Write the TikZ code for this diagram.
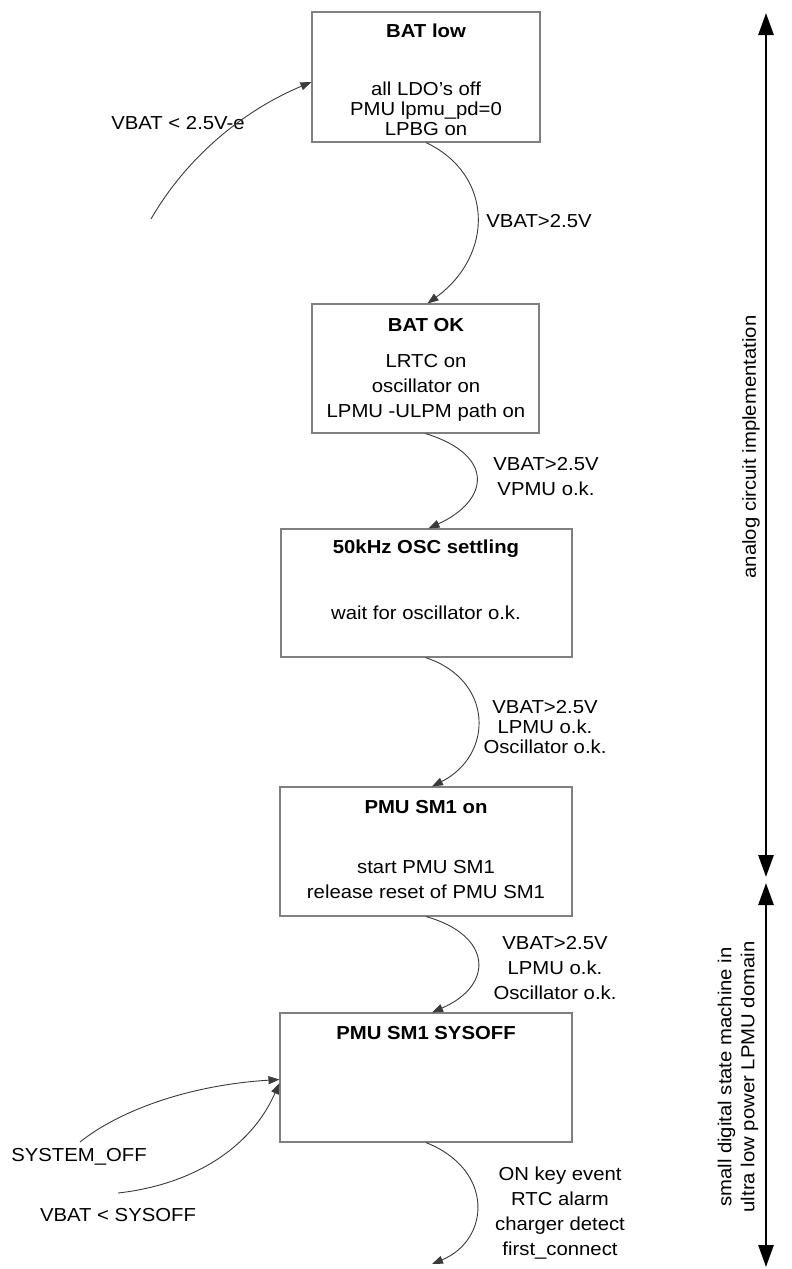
\documentclass[tikz,border=0pt]{standalone}
\usepackage{fontspec}
\setmainfont{Liberation Sans}[FakeStretch=1.08]
\usetikzlibrary{arrows.meta}
\definecolor{boxgray}{HTML}{808080}
\definecolor{linegray}{HTML}{3A3A3A}
\begin{document}
\begin{tikzpicture}[x=1pt,y=-1pt,
  box/.style={draw=boxgray, line width=1.1pt, inner sep=0pt},
  txt/.style={inner sep=0pt, align=center, font=\fontsize{18.8}{25}\selectfont},
  ttl/.style={inner sep=0pt, align=center, font=\fontsize{18.8}{25}\selectfont\bfseries},
  tight/.style={inner sep=0pt, align=center, font=\fontsize{18.8}{20}\selectfont},
  transarrow/.style={draw=linegray, line width=0.9pt, -{Triangle[length=11pt,width=8pt]}},
  rangearrow/.style={draw=black, line width=2.6pt, {Triangle[length=22pt,width=15pt]}-{Triangle[length=22pt,width=15pt]}}
]
\useasboundingbox (0,0) rectangle (792,1269);

% state boxes
\node[box, minimum width=228pt, minimum height=130pt] (batlow) at (426,77) {};
\node[box, minimum width=227pt, minimum height=129pt] (batok) at (425.5,368.5) {};
\node[box, minimum width=291pt, minimum height=128pt] (osc) at (426.5,593) {};
\node[box, minimum width=292pt, minimum height=129pt] (smon) at (426,851.5) {};
\node[box, minimum width=292pt, minimum height=129pt] (sysoff) at (426,1077.5) {};

% box texts
\node[ttl] (batlowT) at (426,31) {BAT low};
\node[tight] (batlowB) at (426,109) {all LDO’s off\\PMU lpmu\_pd=0\\LPBG on};
\node[ttl] (batokT) at (426,325) {BAT OK};
\node[txt] (batokB) at (426,388) {LRTC on\\oscillator on\\LPMU -ULPM path on};
\node[ttl] (oscT) at (426,549) {50kHz OSC settling};
\node[txt] (oscB) at (426,613) {wait for oscillator o.k.};
\node[ttl] (smonT) at (426,807) {PMU SM1 on};
\node[txt] (smonB) at (426,880) {start PMU SM1\\release reset of PMU SM1};
\node[ttl] (sysoffT) at (426,1033) {PMU SM1 SYSOFF};

% transition labels
\node[txt] (l0) at (178,123) {VBAT < 2.5V-e};
\node[txt] (l1) at (539,221) {VBAT>2.5V};
\node[txt] (l2) at (546,476.5) {VBAT>2.5V\\VPMU o.k.};
\node[tight] (l3) at (545,727) {VBAT>2.5V\\LPMU o.k.\\Oscillator o.k.};
\node[txt] (l4) at (555,968) {VBAT>2.5V\\LPMU o.k.\\Oscillator o.k.};
\node[txt] (l5) at (560,1213) {ON key event\\RTC alarm\\charger detect\\first\_connect};
\node[txt] (l6) at (79,1157) {SYSTEM\_OFF};
\node[txt] (l7) at (118,1215) {VBAT < SYSOFF};

% free ends
\coordinate (s0) at (151,219);
\coordinate (s6) at (80,1142);
\coordinate (s7) at (118,1193);
\coordinate (e5) at (432,1264);

% transitions
\draw[transarrow] (s0) .. controls (185,160) and (240,112) .. ([yshift=-5pt]batlow.west);
\draw[transarrow] (batlow.south) .. controls (494,175) and (494,255) .. ([xshift=2pt]batok.north);
\draw[transarrow] (batok.south) .. controls (495,455) and (490,500) .. ([xshift=2pt]osc.north);
\draw[transarrow] ([xshift=-1pt]osc.south) .. controls (494,680) and (494,755) .. ([xshift=6pt]smon.north);
\draw[transarrow] (smon.south) .. controls (492,935) and (495,985) .. ([xshift=6pt]sysoff.north);
\draw[transarrow] (sysoff.south) .. controls (495,1170) and (490,1240) .. (e5);
\draw[transarrow] (s6) .. controls (120,1110) and (190,1085) .. ([yshift=-2pt]sysoff.west);
\draw[transarrow] (s7) .. controls (190,1185) and (250,1150) .. ([yshift=-5.5pt]sysoff.west);

% domain ranges
\coordinate (r1top) at (766,13);
\coordinate (r1bot) at (766,877);
\coordinate (r2top) at (766,883);
\coordinate (r2bot) at (766,1267);
\draw[rangearrow] (r1top) -- (r1bot);
\draw[rangearrow] (r2top) -- (r2bot);
\node[txt, rotate=90] (d1) at (751,447) {analog circuit implementation};
\node[txt, rotate=90, font=\fontsize{18.8}{23}\selectfont] (d2) at (738,1077) {small digital state machine in\\ultra low power LPMU domain};
\end{tikzpicture}
\end{document}
